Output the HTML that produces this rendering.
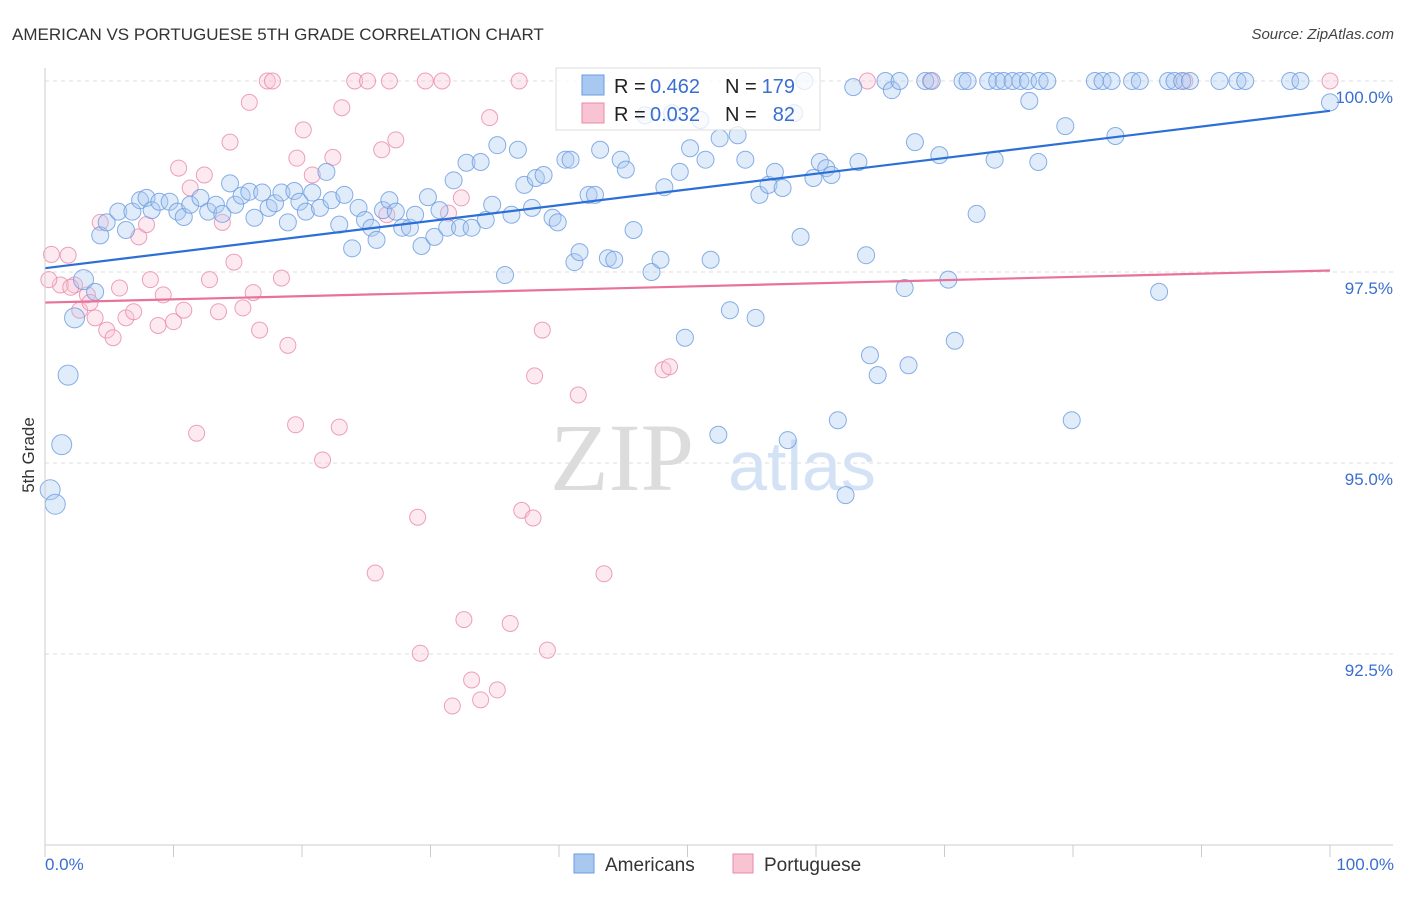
<!DOCTYPE html>
<html><head><meta charset="utf-8"><style>
body{margin:0;background:#fff;font-family:"Liberation Sans",sans-serif;}
</style></head><body>
<svg width="1406" height="892" viewBox="0 0 1406 892" xmlns="http://www.w3.org/2000/svg">
<text x="12" y="40" font-size="17" fill="#333">AMERICAN VS PORTUGUESE 5TH GRADE CORRELATION CHART</text>
<text x="1394" y="39" font-size="15" fill="#444" font-style="italic" text-anchor="end">Source: ZipAtlas.com</text>
<g id="grid"></g>
<text x="622" y="490" font-size="96" fill="#dcdcdc" font-family="Liberation Serif,serif" text-anchor="middle">ZIP</text>
<text x="802" y="490" font-size="70" fill="#d3e2f5" text-anchor="middle">atlas</text>
<g id="pts"></g>
<g id="lines"></g>
<line x1="45" y1="845" x2="1393" y2="845" stroke="#ccc"/>
<line x1="45" y1="68" x2="45" y2="845" stroke="#ccc"/>
<g id="ticks"></g>
<text x="45" y="870" font-size="17" fill="#3a6fd0">0.0%</text>
<text x="1394" y="870" font-size="17" fill="#3a6fd0" text-anchor="end">100.0%</text>
<text transform="translate(34,455) rotate(-90)" font-size="17" fill="#333" text-anchor="middle">5th Grade</text>
<g>
<rect x="556" y="68" width="264" height="62" fill="#fff" fill-opacity="0.75" stroke="#ddd"/>
<rect x="582" y="75" width="22" height="20" fill="#a8c8f0" stroke="#6a9be0"/>
<rect x="582" y="103" width="22" height="20" fill="#f8c4d4" stroke="#e88aa8"/>
<text x="614" y="93" font-size="20" fill="#222">R =</text>
<text x="650" y="93" font-size="20" fill="#3a6fd0">0.462</text>
<text x="725" y="93" font-size="20" fill="#222">N =</text>
<text x="795" y="93" font-size="20" fill="#3a6fd0" text-anchor="end">179</text>
<text x="614" y="121" font-size="20" fill="#222">R =</text>
<text x="650" y="121" font-size="20" fill="#3a6fd0">0.032</text>
<text x="725" y="121" font-size="20" fill="#222">N =</text>
<text x="795" y="121" font-size="20" fill="#3a6fd0" text-anchor="end">82</text>
</g>
<g>
<rect x="574" y="854" width="20" height="19" fill="#a8c8f0" stroke="#6a9be0"/>
<text x="605" y="871" font-size="19" fill="#333">Americans</text>
<rect x="733" y="854" width="20" height="19" fill="#f8c4d4" stroke="#e88aa8"/>
<text x="764" y="871" font-size="19" fill="#333">Portuguese</text>
</g>
</svg>
<script>
const yTicks=[100,97.5,95,92.5];
const yTickLabels=["100.0%","97.5%","95.0%","92.5%"];
const blueX=[0.4,0.8,1.3,1.8,2.3,3.0,3.9,4.3,4.8,5.7,6.3,6.8,7.4,7.9,8.3,8.9,9.7,10.3,10.8,11.3,12.1,12.7,13.3,13.8,14.4,14.8,15.3,15.9,16.3,16.9,17.4,17.9,18.4,18.9,19.4,19.8,20.3,20.8,21.4,21.9,22.3,22.9,23.3,23.9,24.4,24.9,25.4,25.8,26.3,26.8,27.3,27.8,28.4,28.8,29.3,29.8,30.3,30.7,31.3,31.8,32.3,32.8,33.2,33.9,34.3,34.8,35.2,35.8,36.3,36.8,37.3,37.9,38.2,38.8,39.5,39.9,40.5,40.9,41.2,41.6,42.3,42.8,43.2,43.8,44.3,44.8,45.2,45.8,46.7,47.2,47.9,48.2,48.8,49.4,49.8,50.2,51.0,51.4,51.8,52.4,52.5,53.3,53.9,54.5,55.3,55.6,56.3,56.8,57.4,57.8,58.3,58.8,59.1,59.8,60.3,60.8,61.2,61.7,62.3,62.9,63.3,63.9,64.2,64.8,65.4,65.9,66.5,66.9,67.2,67.7,68.5,69.0,69.6,70.3,70.8,71.4,71.8,72.5,73.4,74.1,74.6,75.3,75.9,76.5,77.4,78.0,73.9,76.6,77.3,79.4,79.9,81.7,82.3,83.0,84.6,85.2,87.4,87.9,88.5,89.1,91.4,92.8,93.4,96.9,97.7,83.3,86.7,100];
const blueY=[94.65,94.46,95.24,96.15,96.9,97.4,97.24,97.98,98.15,98.29,98.05,98.29,98.44,98.47,98.31,98.42,98.42,98.29,98.22,98.38,98.47,98.29,98.38,98.26,98.66,98.38,98.5,98.55,98.21,98.54,98.34,98.4,98.54,98.15,98.56,98.42,98.29,98.54,98.34,98.81,98.44,98.12,98.51,97.81,98.34,98.18,98.08,97.92,98.31,98.44,98.29,98.08,98.08,98.25,97.84,98.48,97.96,98.31,98.08,98.7,98.08,98.93,98.08,98.94,98.18,98.38,99.16,97.46,98.25,99.1,98.64,98.34,98.73,98.77,98.21,98.15,98.97,98.97,97.63,97.76,98.51,98.51,99.1,97.68,97.66,98.97,98.84,98.05,99.55,97.5,97.66,98.61,99.58,98.81,96.64,99.12,99.49,98.97,97.66,95.37,99.25,97.0,99.29,98.97,96.9,98.51,98.64,98.81,98.6,95.3,99.58,97.96,100,98.73,98.94,98.86,98.77,95.56,94.58,99.92,98.94,97.72,96.41,96.15,100,99.88,100,97.29,96.28,99.2,100,100,99.03,97.4,96.6,100,100,98.26,100,100,100,100,100,100,100,100,98.97,99.74,98.94,99.41,95.56,100,100,100,100,100,100,100,100,100,100,100,100,100,100,99.28,97.24,99.72];
const pinkX=[0.5,1.2,1.8,2.3,2.7,3.3,3.9,4.3,4.8,5.3,5.8,6.3,6.9,7.3,7.9,8.2,8.8,9.2,10.0,10.4,10.8,11.3,11.8,12.4,12.8,13.5,13.8,14.4,14.7,15.4,15.9,16.2,16.7,17.3,17.7,18.4,18.9,19.5,19.6,20.1,20.8,21.6,22.4,22.9,23.1,24.1,25.1,26.8,29.6,30.9,36.9,25.7,26.2,26.6,27.3,29.0,29.2,31.4,31.7,32.4,32.6,33.2,33.9,34.6,35.2,36.2,37.1,37.98,38.1,38.7,39.1,41.5,43.5,48.1,48.6,64.0,68.9,88.7,100,0.3,2.0,3.5];
const pinkY=[97.73,97.33,97.72,97.33,97.0,97.2,96.9,98.15,96.74,96.64,97.29,96.9,96.98,97.96,98.12,97.4,96.8,97.2,96.85,98.86,97.0,98.6,95.39,98.77,97.4,96.98,98.15,99.2,97.63,97.03,99.72,97.23,96.74,100,100,97.42,96.54,95.5,98.99,99.36,98.77,95.04,99.0,95.47,99.65,100,100,100,100,100,100,93.56,99.1,98.25,99.23,94.29,92.51,98.27,91.82,98.47,92.95,92.16,91.9,99.52,92.03,92.9,94.38,94.28,96.14,96.74,92.55,95.89,93.55,96.22,96.26,100,100,100,100,97.4,97.3,97.1];
const blueTrend=[97.55,99.61];
const pinkTrend=[97.1,97.52];
const NS="http://www.w3.org/2000/svg";
const xs=v=>45+v*12.85;
const ys=v=>81+(100-v)*76.4;
const grid=document.getElementById('grid');
yTicks.forEach((t,i)=>{
  const l=document.createElementNS(NS,'line');
  l.setAttribute('x1',45);l.setAttribute('x2',1393);
  l.setAttribute('y1',ys(t));l.setAttribute('y2',ys(t));
  l.setAttribute('stroke','#ddd');l.setAttribute('stroke-dasharray','4,4');
  
  
  grid.appendChild(l);
  const tx=document.createElementNS(NS,'text');
  tx.setAttribute('x',1393);tx.setAttribute('y',ys(t)+22);
  tx.setAttribute('text-anchor','end');tx.setAttribute('font-size','17');tx.setAttribute('fill','#3a6fd0');
  tx.textContent=yTickLabels[i];
  
  
  grid.appendChild(tx);
});
const ticks=document.getElementById('ticks');
for(let i=0;i<=10;i++){
  const l=document.createElementNS(NS,'line');
  l.setAttribute('x1',xs(i*10));l.setAttribute('x2',xs(i*10));
  l.setAttribute('y1',845);l.setAttribute('y2',857);l.setAttribute('stroke','#ccc');
  
  
  ticks.appendChild(l);
}
const pts=document.getElementById('pts');
function dot(x,y,fill,stroke,name,r){
  const c=document.createElementNS(NS,'circle');
  c.setAttribute('cx',xs(x));c.setAttribute('cy',ys(y));c.setAttribute('r',r);
  c.setAttribute('fill',fill);c.setAttribute('fill-opacity','0.35');
  c.setAttribute('stroke',stroke);c.setAttribute('stroke-width','1');c.setAttribute('stroke-opacity','0.8');
  
  
  pts.appendChild(c);
}
pinkX.forEach((x,i)=>dot(x,pinkY[i],'#f8c4d4','#e88aa8','portuguese-point',8));
blueX.forEach((x,i)=>dot(x,blueY[i],'#a8c8f0','#6a9be0','american-point',i<6?10:8.5));
const lines=document.getElementById('lines');
function trend(v,col,name){
  const l=document.createElementNS(NS,'line');
  l.setAttribute('x1',xs(0));l.setAttribute('x2',xs(100));
  l.setAttribute('y1',ys(v[0]));l.setAttribute('y2',ys(v[1]));
  l.setAttribute('stroke',col);l.setAttribute('stroke-width','2.2');
  
  
  lines.appendChild(l);
}
trend(blueTrend,'#2c6fd6','americans-trend-line');
trend(pinkTrend,'#e8729a','portuguese-trend-line');
</script>
</body></html>
